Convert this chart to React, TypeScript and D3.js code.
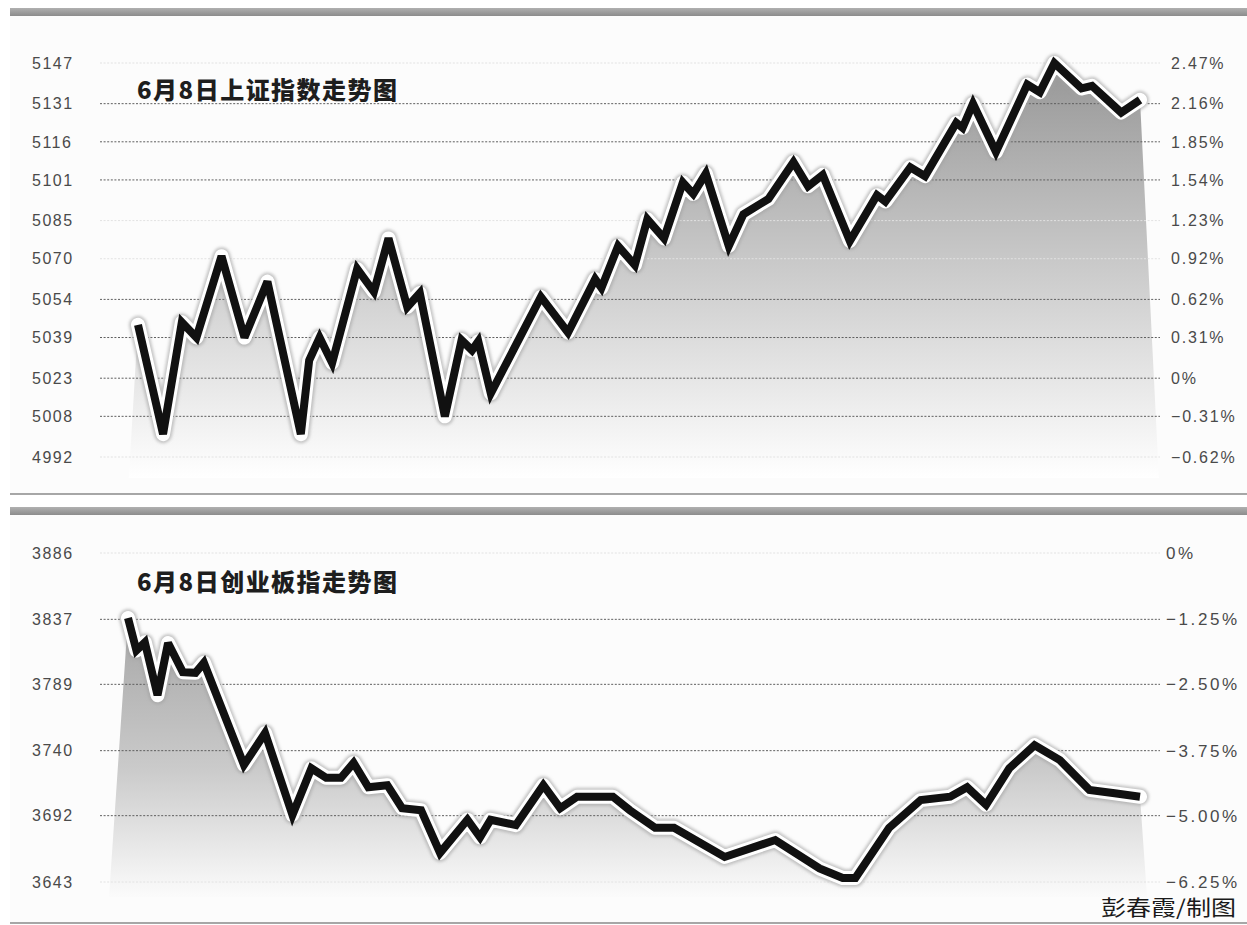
import React from 'react';
import * as d3 from 'd3';

// ---------- Data: 上证指数 (6月8日) ----------
const topMinutes = [0, 6, 10.5, 14, 20, 25.5, 31, 39, 41, 43.5, 46.5, 52.5, 56.5, 60, 64.5, 67.5, 73.5, 77.5, 80, 81.5, 84.5, 96.5, 103, 109.5, 111, 115, 119, 122, 126, 130.5, 133, 136, 141.5, 145, 151, 157, 160.5, 164, 170.5, 177, 179, 185, 188.5, 196, 197.5, 200, 205.5, 213, 216, 219.5, 226, 228.5, 235.5, 240];
const topValues = [5044, 5001, 5045, 5039, 5071, 5039, 5061, 5001, 5030, 5039, 5029, 5066, 5057, 5078, 5051, 5056.5, 5008, 5038, 5034, 5037.5, 5017, 5055, 5041, 5062, 5058.5, 5075, 5067.5, 5085.5, 5078, 5100, 5095.5, 5103.5, 5075, 5087.5, 5093.5, 5108, 5098.5, 5103, 5077, 5095, 5092.5, 5106, 5102.5, 5123.5, 5121.5, 5131, 5112, 5138.5, 5135.5, 5147, 5137, 5138, 5127.5, 5132.5];
const topTicks = [5147, 5131, 5116, 5101, 5085, 5070, 5054, 5039, 5023, 5008, 4992];
const topPctLabels = ['2.47%', '2.16%', '1.85%', '1.54%', '1.23%', '0.92%', '0.62%', '0.31%', '0%', '\u22120.31%', '\u22120.62%'];
const topGridStrong = [5131, 5116, 5101, 5054, 5039, 5023, 5008];
const topTitle = '6月8日上证指数走势图';

// ---------- Data: 创业板指 (6月8日) ----------
const botMinutes = [0, 2, 4, 7, 9.5, 13, 16, 18, 27.5, 32.5, 39, 43.5, 47, 50.5, 53.5, 57, 61.5, 65, 69.5, 74, 80.5, 83.5, 86, 92, 98.5, 102.5, 106.5, 115, 119, 125, 129.5, 141.5, 153.5, 164, 169.5, 172.5, 180.5, 188, 195, 199, 203.5, 209, 215, 221, 228, 234, 240];
const botValues = [3838, 3814, 3820, 3781, 3819.5, 3798, 3797.5, 3805, 3729.5, 3753, 3692.5, 3727, 3720, 3720, 3731, 3713, 3714.5, 3697.5, 3696, 3664.5, 3689, 3676, 3689, 3685, 3714.5, 3697.5, 3706, 3706, 3696, 3683, 3683, 3661.5, 3674, 3653, 3646, 3646, 3683, 3703.5, 3706, 3713, 3700, 3727, 3744, 3733, 3711, 3708.5, 3706];
const botTicks = [3886, 3837, 3789, 3740, 3692, 3643];
const botPctLabels = ['0%', '\u22121.25%', '\u22122.50%', '\u22123.75%', '\u22125.00%', '\u22126.25%'];
const botGridStrong = [3837, 3789, 3740, 3692];
const botTitle = '6月8日创业板指走势图';

const credit = '彭春霞/制图';

const W = 1247;
const H = 925;

type PanelProps = {
  id: string;
  minutes: number[];
  values: number[];
  ticks: number[];
  pct: string[];
  strong: number[];
  title: string;
  barY: number;
  borderY: number;
  yRange: [number, number];
  xRange: [number, number];
  baseY: number;
  titleY: number;
  slantL: number;
  slantR: number;
  gradTop: number;
  stops: [number, string][];
  labelSize: number;
  pctSize: number;
  pctSpacing: number;
  pctX: number;
};

function Panel(p: PanelProps) {
  const x = d3.scaleLinear().domain([0, 240]).range(p.xRange);
  const y = d3
    .scaleLinear()
    .domain([p.ticks[p.ticks.length - 1], p.ticks[0]])
    .range(p.yRange);
  const pts: [number, number][] = p.minutes.map((m, i) => [m, p.values[i]]);
  const line = d3
    .line<[number, number]>()
    .x((d) => x(d[0]))
    .y((d) => y(d[1]));
  const linePath = line(pts) || '';
  const f = pts[0];
  const l = pts[pts.length - 1];
  const fx = x(f[0]);
  const fy = y(f[1]);
  const lx = x(l[0]);
  const ly = y(l[1]);
  const areaPath =
    linePath +
    `L${lx + (p.baseY - ly) * p.slantR},${p.baseY}L${fx - (p.baseY - fy) * p.slantL},${p.baseY}Z`;
  const gridX0 = 100;
  const gridX1 = 1160;
  return (
    <g>
      <defs>
        <linearGradient id={`grad-${p.id}`} gradientUnits="userSpaceOnUse" x1={0} y1={p.gradTop} x2={0} y2={p.baseY}>
          {p.stops.map(([o, c], i) => (
            <stop key={i} offset={o} stopColor={c} />
          ))}
        </linearGradient>
        <linearGradient id={`bar-${p.id}`} x1={0} y1={0} x2={0} y2={1}>
          <stop offset={0} stopColor="#b0b0b0" />
          <stop offset={1} stopColor="#8c8c8c" />
        </linearGradient>
      </defs>
      <rect x={10} y={p.barY} width={W - 10} height={p.borderY - p.barY} fill="#fcfcfc" />
      <rect x={10} y={p.barY} width={W - 10} height={8} fill={`url(#bar-${p.id})`} />
      <line x1={10} x2={W} y1={p.borderY} y2={p.borderY} stroke="#8a8a8a" strokeWidth={1.5} />
      <path d={areaPath} fill={`url(#grad-${p.id})`} />
      {p.ticks.map((t) => {
        const strong = p.strong.includes(t);
        return (
          <line
            key={t}
            x1={gridX0}
            x2={gridX1}
            y1={y(t)}
            y2={y(t)}
            stroke={strong ? '#5e5e5e' : '#e2e2e2'}
            strokeWidth={1}
            strokeDasharray="2 1.6"
          />
        );
      })}
      <path d={linePath} fill="none" stroke="#a0a0a0" strokeOpacity={0.6} strokeWidth={18} strokeLinejoin="round" strokeLinecap="round" filter="url(#blur)" />
      <path d={linePath} fill="none" stroke="#ffffff" strokeWidth={14} strokeLinejoin="round" strokeLinecap="round" />
      <path d={linePath} fill="none" stroke="#111111" strokeWidth={8} strokeLinejoin="miter" strokeMiterlimit={3} strokeLinecap="butt" />
      {p.ticks.map((t) => (
        <text
          key={'l' + t}
          x={32}
          y={y(t)}
          dy="0.36em"
          fontFamily="'Liberation Sans', Arial, sans-serif"
          fontSize={p.labelSize}
          letterSpacing={1.5}
          fill="#4a4a4a"
        >
          {t}
        </text>
      ))}
      {p.ticks.map((t, i) => (
        <text
          key={'r' + t}
          x={p.pctX}
          y={y(t)}
          dy="0.36em"
          fontFamily="'Liberation Sans', Arial, sans-serif"
          fontSize={p.pctSize}
          letterSpacing={p.pctSpacing}
          fill="#4a4a4a"
        >
          {p.pct[i]}
        </text>
      ))}
      <text
        x={137}
        y={p.titleY}
        fontFamily="'Noto Sans CJK SC', sans-serif"
        fontWeight={900}
        fontSize={24}
        fill="#1e1e1e"
        textLength={260}
        lengthAdjust="spacing"
      >
        {p.title}
      </text>
    </g>
  );
}

export default function App() {
  return (
    <svg
      width={W}
      height={H}
      viewBox={`0 0 ${W} ${H}`}
      style={{ position: 'absolute', left: 0, top: 0, background: '#fff' }}
    >
      <defs>
        <filter id="blur" x="-5%" y="-5%" width="110%" height="110%">
          <feGaussianBlur stdDeviation={1.5} />
        </filter>
      </defs>
      <rect x={0} y={0} width={W} height={H} fill="#fff" />
      <Panel
        id="top"
        minutes={topMinutes}
        values={topValues}
        ticks={topTicks}
        pct={topPctLabels}
        strong={topGridStrong}
        title={topTitle}
        barY={8}
        borderY={494}
        yRange={[457, 63]}
        xRange={[138, 1140]}
        baseY={478}
        titleY={99}
        slantL={0.06}
        slantR={0.05}
        gradTop={60}
        stops={[
          [0, '#969696'],
          [0.55, '#d0d0d0'],
          [1, '#ffffff'],
        ]}
        labelSize={16}
        pctSize={16}
        pctSpacing={1.8}
        pctX={1171}
      />
      <Panel
        id="bot"
        minutes={botMinutes}
        values={botValues}
        ticks={botTicks}
        pct={botPctLabels}
        strong={botGridStrong}
        title={botTitle}
        barY={507}
        borderY={923}
        yRange={[882, 553]}
        xRange={[128, 1140]}
        baseY={897}
        titleY={591}
        slantL={0.068}
        slantR={0.07}
        gradTop={610}
        stops={[
          [0, '#a4a4a4'],
          [0.55, '#cacaca'],
          [1, '#fbfbfb'],
        ]}
        labelSize={16}
        pctSize={17}
        pctSpacing={2.6}
        pctX={1166}
      />
      <text
        x={1101}
        y={915}
        fontFamily="'Noto Sans CJK SC', sans-serif"
        fontSize={21}
        fill="#1a1a1a"
        textLength={135}
        lengthAdjust="spacingAndGlyphs"
      >
        {credit}
      </text>
    </svg>
  );
}
